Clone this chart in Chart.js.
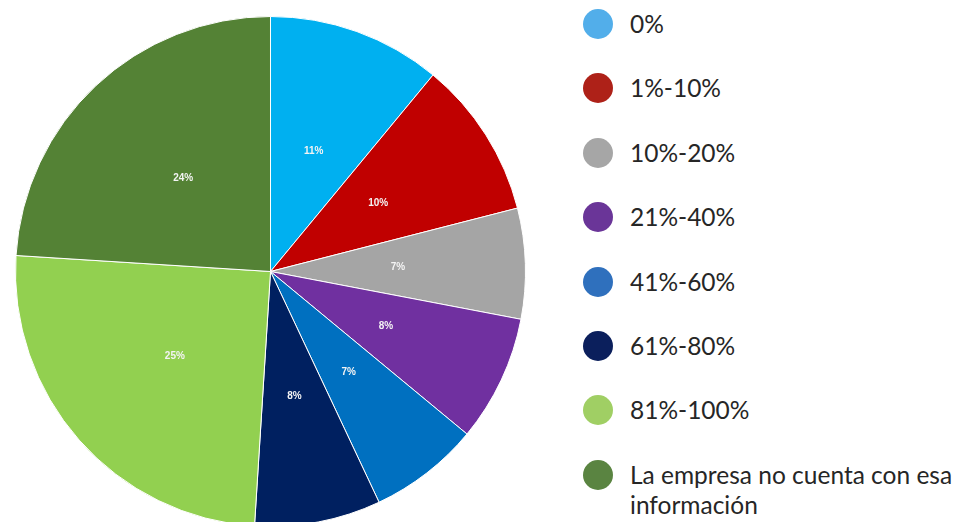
<!DOCTYPE html>
<html>
<head>
<meta charset="utf-8">
<script src="https://cdn.jsdelivr.net/npm/chart.js@4"></script>
<style>
  html, body { margin: 0; padding: 0; background: #fff; overflow: hidden; }
  body { width: 955px; height: 522px; position: relative; }
  .pieWrap { position: absolute; left: 15px; top: 16px; width: 511px; height: 511px; }
  .legend { position: absolute; left: 583px; top: 0; width: 372px; }
  .legendItem { position: absolute; left: 0; display: flex; align-items: flex-start; }
  .dot { width: 30px; height: 30px; border-radius: 50%; flex: none; }
  .legendText { margin-left: 17px; font-family: Lato, "Noto Sans", sans-serif; font-weight: 400; font-size: 24.5px; line-height: 30px; color: #262626; }
</style>
</head>
<body>
<div class="pieWrap"><canvas id="myChart"></canvas></div>
<div class="legend" id="legend"></div>
<script>
let labels = ["0%", "1%-10%", "10%-20%", "21%-40%", "41%-60%", "61%-80%", "81%-100%", "La empresa no cuenta con esa información"];
let values = [11, 10, 7, 8, 7, 8, 25, 24];
let sliceColors = ["#00B0F0", "#C00000", "#A5A5A5", "#7030A0", "#0070C0", "#002060", "#92D050", "#548235"];
let legendColors = ["#52AEEA", "#AE2118", "#A6A6A6", "#6A3598", "#2F70BD", "#0B1F5C", "#A0CF64", "#5A8441"];

/* legend on the right */
let legend = document.getElementById("legend");
labels.forEach((label, index) => {
  let top = 9 + index * 64.4;
  legend.innerHTML += `
    <div class="legendItem" style="top:${top}px">
      <div class="dot" style="background:${legendColors[index]}"></div>
      <div class="legendText" style="width:335px">${label}</div>
    </div>`;
});

/* white percent labels inside slices */
let sliceLabels = {
  id: "sliceLabels",
  afterDatasetsDraw(chart) {
    let ctx = chart.ctx;
    let meta = chart.getDatasetMeta(0);
    ctx.save();
    ctx.fillStyle = "#f4f4f4";
    ctx.font = "bold 10px 'Liberation Sans', Arial, sans-serif";
    ctx.textAlign = "center";
    ctx.textBaseline = "middle";
    meta.data.forEach((arc, i) => {
      let p = arc.getCenterPoint();
      ctx.fillText(values[i] + "%", p.x, p.y);
    });
    ctx.restore();
  }
};

let ctx = document.getElementById("myChart").getContext("2d");
let my_chart = new Chart(ctx, {
  type: "pie",
  data: {
    labels: labels,
    datasets: [{
      data: values,
      backgroundColor: sliceColors,
      borderColor: "#ffffff",
      borderWidth: 1,
      hoverOffset: 0
    }]
  },
  options: {
    responsive: true,
    maintainAspectRatio: false,
    animation: false,
    plugins: {
      legend: { display: false },
      tooltip: { enabled: false }
    }
  },
  plugins: [sliceLabels]
});
</script>
</body>
</html>
